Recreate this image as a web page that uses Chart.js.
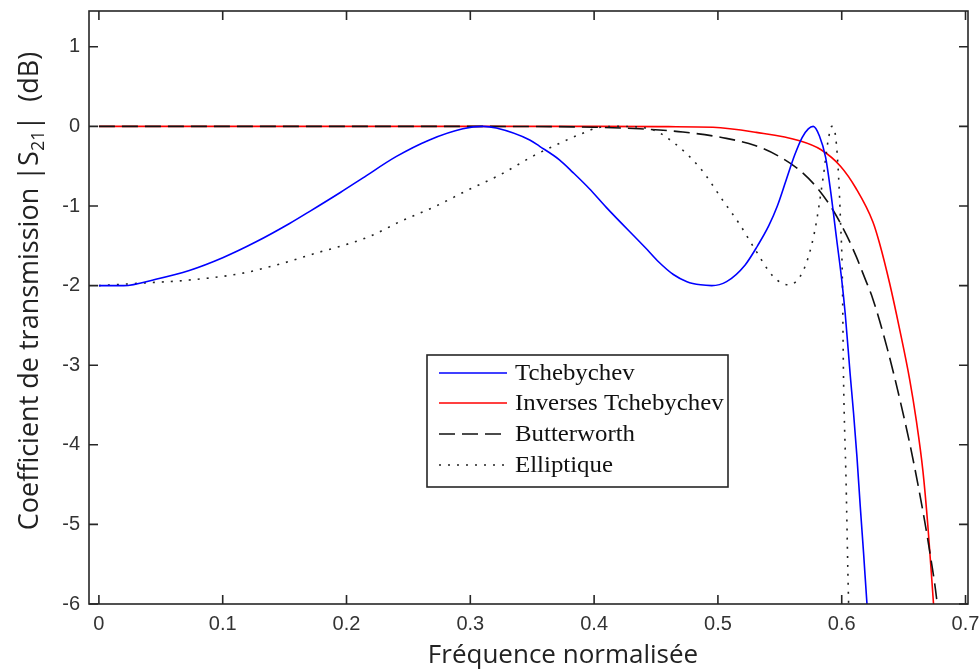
<!DOCTYPE html>
<html>
<head>
<meta charset="utf-8">
<script src="https://cdn.jsdelivr.net/npm/chart.js@4.4.0/dist/chart.umd.min.js"></script>
<style>
  html, body { margin: 0; padding: 0; background: #fff; }
  #wrap { width: 980px; height: 671px; }
</style>
</head>
<body>
<div id="wrap"><canvas id="myChart" width="980" height="671"></canvas></div>
<script>
// axis ticks
const xTicks = [0, 0.1, 0.2, 0.3, 0.4, 0.5, 0.6, 0.7];
const xTickLabels = ['0', '0.1', '0.2', '0.3', '0.4', '0.5', '0.6', '0.7'];
const yTicks = [-6, -5, -4, -3, -2, -1, 0, 1];
const yTickLabels = ['-6', '-5', '-4', '-3', '-2', '-1', '0', '1'];

// Tchebychev (blue)
const tchebX = [0, 0.02, 0.046, 0.073, 0.100, 0.127, 0.154, 0.170, 0.195, 0.213, 0.240, 0.267, 0.294, 0.310, 0.321, 0.348, 0.356, 0.372, 0.383, 0.396, 0.410, 0.443, 0.452, 0.464, 0.475, 0.486, 0.495, 0.507, 0.522, 0.532, 0.541, 0.548, 0.555, 0.562, 0.568, 0.573, 0.577, 0.582, 0.587, 0.591, 0.596, 0.6001, 0.6028, 0.6068, 0.6096, 0.6123, 0.6150, 0.6177, 0.6204, 0.6220];
const tchebY = [-2.00, -2.00, -1.92, -1.81, -1.65, -1.45, -1.22, -1.07, -0.83, -0.65, -0.38, -0.17, -0.03, 0.00, -0.02, -0.17, -0.25, -0.42, -0.58, -0.78, -1.02, -1.55, -1.70, -1.86, -1.95, -1.99, -2.00, -1.95, -1.74, -1.50, -1.25, -1.00, -0.68, -0.36, -0.14, -0.03, 0.00, -0.12, -0.39, -0.81, -1.43, -1.94, -2.35, -3.11, -3.61, -4.15, -4.78, -5.37, -6.00, -6.30];

// Inverses Tchebychev (red)
const invX = [0, 0.1, 0.2, 0.3, 0.4, 0.46, 0.496, 0.531, 0.566, 0.583, 0.599, 0.6116, 0.6252, 0.6306, 0.6387, 0.6468, 0.6549, 0.6603, 0.6656, 0.6696, 0.6737, 0.6760];
const invY = [0, 0, 0, 0, 0, -0.003, -0.01, -0.075, -0.18, -0.29, -0.50, -0.78, -1.20, -1.47, -1.97, -2.55, -3.18, -3.70, -4.33, -5.02, -5.90, -6.40];

// Butterworth (black dashed)
const buttX = [0, 0.1, 0.2, 0.3, 0.37, 0.40, 0.4368, 0.4717, 0.5068, 0.5300, 0.5498, 0.566, 0.5795, 0.5929, 0.6037, 0.6116, 0.6185, 0.6252, 0.6373, 0.6468, 0.6549, 0.6616, 0.6670, 0.6724, 0.6764, 0.6790];
const buttY = [0, 0, 0, 0, -0.003, -0.01, -0.03, -0.07, -0.15, -0.24, -0.38, -0.55, -0.76, -1.05, -1.36, -1.63, -1.90, -2.17, -2.82, -3.42, -3.98, -4.50, -4.96, -5.47, -5.90, -6.30];

// Elliptique (dotted)
const ellX = [0, 0.033, 0.073, 0.114, 0.146, 0.178, 0.192, 0.219, 0.244, 0.271, 0.298, 0.325, 0.351, 0.371, 0.390, 0.405, 0.420, 0.445, 0.464, 0.486, 0.504, 0.518, 0.529, 0.545, 0.557, 0.569, 0.578, 0.585, 0.589, 0.592, 0.595, 0.5975, 0.599, 0.6005, 0.6015, 0.6035, 0.6055, 0.6065];
const ellY = [-2.00, -1.97, -1.93, -1.85, -1.73, -1.58, -1.52, -1.38, -1.19, -1.01, -0.80, -0.60, -0.37, -0.22, -0.09, -0.01, 0.00, -0.03, -0.20, -0.53, -0.93, -1.24, -1.52, -1.89, -1.99, -1.81, -1.33, -0.64, -0.18, 0.00, -0.12, -0.64, -1.18, -1.90, -3.20, -4.45, -5.95, -6.40];

const toPoints = (xs, ys) => xs.map((x, i) => ({ x: x, y: ys[i] }));

const series = [
  { label: 'Tchebychev', color: '#0000ff', dash: [], width: 1.6, x: tchebX, y: tchebY, order: 0 },
  { label: 'Inverses Tchebychev', color: '#ff0000', dash: [], width: 1.6, x: invX, y: invY, order: 3 },
  { label: 'Butterworth', color: '#111111', dash: [16, 7], width: 1.6, x: buttX, y: buttY, order: 2 },
  { label: 'Elliptique', color: '#222222', dash: [2, 7], width: 1.6, x: ellX, y: ellY, order: 1 }
];

// box round the plot with inward ticks on all four sides, like MATLAB
const boxPlugin = {
  id: 'box',
  afterDatasetsDraw(chart) {
    const { ctx, chartArea: a, scales } = chart;
    ctx.save();
    ctx.strokeStyle = '#262626';
    ctx.lineWidth = 1.6;
    ctx.strokeRect(a.left, a.top, a.right - a.left, a.bottom - a.top);
    ctx.beginPath();
    xTicks.forEach(v => {
      const px = scales.x.getPixelForValue(v);
      ctx.moveTo(px, a.bottom); ctx.lineTo(px, a.bottom - 9);
      ctx.moveTo(px, a.top); ctx.lineTo(px, a.top + 9);
    });
    yTicks.forEach(v => {
      const py = scales.y.getPixelForValue(v);
      ctx.moveTo(a.left, py); ctx.lineTo(a.left + 9, py);
      ctx.moveTo(a.right, py); ctx.lineTo(a.right - 9, py);
    });
    ctx.stroke();
    ctx.restore();
  }
};

// legend box inside the plot + axis titles (the y one has a subscript)
const decorPlugin = {
  id: 'decor',
  afterDraw(chart) {
    const ctx = chart.ctx;
    ctx.save();
    // legend
    const bx = 427, by = 355, bw = 301, bh = 132;
    ctx.fillStyle = '#ffffff';
    ctx.fillRect(bx, by, bw, bh);
    ctx.strokeStyle = '#262626';
    ctx.lineWidth = 1.6;
    ctx.strokeRect(bx, by, bw, bh);
    const rows = [373, 403, 434, 465];
    ctx.font = '23px "Liberation Serif"';
    ctx.textBaseline = 'alphabetic';
    series.forEach((s, i) => {
      ctx.beginPath();
      ctx.strokeStyle = s.color;
      ctx.lineWidth = s.width;
      ctx.setLineDash(s.dash);
      ctx.moveTo(439, rows[i]);
      ctx.lineTo(507, rows[i]);
      ctx.stroke();
      ctx.setLineDash([]);
      ctx.fillStyle = '#111';
      ctx.save();
      ctx.translate(515, rows[i] + 7);
      ctx.scale(1.08, 1);
      ctx.fillText(s.label, 0, 0);
      ctx.restore();
    });

    // x title
    ctx.fillStyle = '#222';
    ctx.font = '26px "Open Sans"';
    ctx.textAlign = 'center';
    ctx.fillText('Fréquence normalisée', 563, 663);

    // y title, rotated, with S21 subscript
    ctx.translate(38, 291);
    ctx.rotate(-Math.PI / 2);
    const big = '27px "Open Sans"', small = '18px "Open Sans"';
    const parts = [['Coefficient de transmission |S', big, 0], ['21', small, 6], ['|  (dB)', big, 0]];
    let total = 0;
    parts.forEach(p => { ctx.font = p[1]; total += ctx.measureText(p[0]).width; });
    let cx = -total / 2;
    ctx.textAlign = 'left';
    parts.forEach(p => {
      ctx.font = p[1];
      ctx.fillText(p[0], cx, p[2]);
      cx += ctx.measureText(p[0]).width;
    });
    ctx.restore();
  }
};

const ctx = document.getElementById('myChart');

new Chart(ctx, {
  type: 'line',
  data: {
    datasets: series.map(s => ({
      label: s.label,
      data: toPoints(s.x, s.y),
      borderColor: s.color,
      borderWidth: s.width,
      borderDash: s.dash,
      pointRadius: 0,
      fill: false,
      cubicInterpolationMode: 'monotone',
      order: s.order
    }))
  },
  options: {
    responsive: false,
    animation: false,
    layout: { padding: { left: 0, right: 12, top: 11, bottom: 0 } },
    scales: {
      x: {
        type: 'linear',
        min: -0.008,
        max: 0.702,
        afterFit: s => { s.height = 67; s.paddingLeft = 0; s.paddingRight = 0; },
        afterBuildTicks: s => { s.ticks = xTicks.map(v => ({ value: v })); },
        grid: { display: false, drawTicks: false },
        border: { display: false },
        ticks: {
          padding: 8,
          color: '#333',
          font: { family: 'Liberation Sans', size: 20 },
          maxRotation: 0,
          callback: (v, i) => xTickLabels[i]
        }
      },
      y: {
        type: 'linear',
        min: -6,
        max: 1.45,
        afterFit: s => { s.width = 89; s.paddingTop = 0; s.paddingBottom = 0; },
        afterBuildTicks: s => { s.ticks = yTicks.map(v => ({ value: v })); },
        grid: { display: false, drawTicks: false },
        border: { display: false },
        ticks: {
          padding: 9,
          color: '#333',
          font: { family: 'Liberation Sans', size: 20 },
          callback: (v, i) => yTickLabels[i]
        }
      }
    },
    plugins: {
      legend: { display: false },
      tooltip: { enabled: false }
    }
  },
  plugins: [boxPlugin, decorPlugin]
});
</script>
</body>
</html>
